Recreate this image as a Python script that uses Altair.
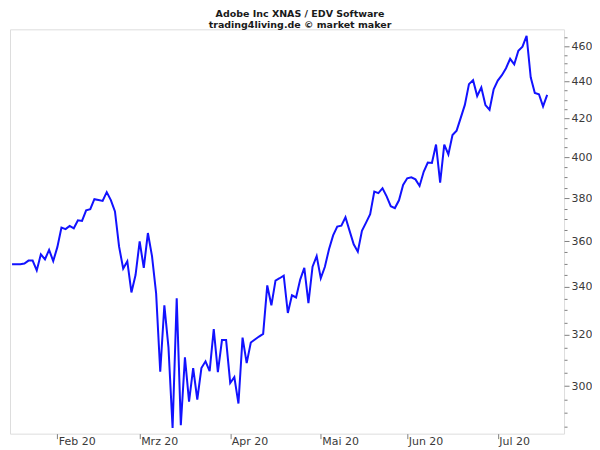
import altair as alt
import pandas as pd

# Trading sessions (all weekdays) from 17 Jan 2020 to 17 Jul 2020
dates = pd.bdate_range("2020-01-17", "2020-07-17")

prices = [
    349.7, 349.7, 349.7, 350.0, 351.3, 351.3, 347.0, 354.1, 351.9, 356.1,
    351.1, 357.3, 366.2, 365.5, 367.0, 365.9, 369.6, 369.3, 374.2, 374.8,
    379.5, 379.1, 378.7, 382.9, 379.1, 373.7, 357.5, 347.8, 351.0, 337.5,
    345.0, 359.9, 348.1, 363.7, 353.3, 337.1, 305.5, 332.1, 315.0, 284.6,
    335.0, 285.6, 311.1, 294.2, 306.9, 295.0, 306.9, 309.5, 305.7, 322.3,
    305.3, 317.9, 317.9, 301.2, 303.4, 293.5, 318.9, 308.8, 316.9, 318.1,
    319.3, 320.4, 340.5, 332.1, 342.6, 343.6, 344.7, 328.9, 336.3, 335.4,
    343.0, 348.1, 333.0, 348.6, 353.3, 343.6, 348.6, 356.4, 362.6, 366.7,
    367.1, 371.0, 364.7, 358.6, 355.3, 364.7, 368.5, 372.4, 383.2, 382.4,
    384.8, 380.9, 376.2, 375.3, 379.0, 386.4, 389.6, 390.1, 389.1, 385.9,
    392.8, 397.4, 397.2, 406.5, 387.5, 406.5, 401.5, 411.4, 413.7, 420.4,
    427.3, 438.6, 440.8, 432.1, 436.8, 427.2, 424.7, 435.7, 440.6, 443.6,
    447.5, 452.8, 449.7, 457.4, 459.8, 466.0, 442.4, 433.8, 433.1, 426.5,
    432.7,
]

month_labels = ["Feb 20", "Mrz 20", "Apr 20", "Mai 20", "Jun 20", "Jul 20"]
month_starts = ["2020-02-03", "2020-03-02", "2020-04-01", "2020-05-01", "2020-06-01", "2020-07-01"]
y_ticks = list(range(285, 470, 5))

df = pd.DataFrame({"session": range(len(dates)), "date": dates.strftime("%Y-%m-%d"), "price": prices})
pos = {d: i for i, d in enumerate(df["date"])}
month_idx = [pos[d] for d in month_starts]

label_expr = "[" + ",".join(f"'{m}'" for m in month_labels) + "][indexof([" + ",".join(str(i) for i in month_idx) + "], datum.value)]"

FONT = "DejaVu Sans"
GRAY = "#808080"
LBL = "#3a3a3a"

chart = alt.Chart(df).mark_line(color="#1212ff", strokeWidth=2).encode(
    x=alt.X(
        "session:Q",
        scale=alt.Scale(domain=[-0.5, 134.1], nice=False, zero=False),
        axis=alt.Axis(
            values=month_idx, labelExpr=label_expr, title=None, grid=False, domain=False,
            tickSize=5, tickColor=GRAY, labelAlign="left", labelPadding=-3.5, labelOffset=1,
            labelColor=LBL, labelFont=FONT, labelFontSize=11, labelFlush=False,
        ),
    ),
    y=alt.Y(
        "price:Q",
        scale=alt.Scale(type="log", domain=[282.6, 469.9], nice=False, zero=False),
        axis=alt.Axis(
            orient="right", values=y_ticks, title=None, grid=False, domain=False,
            labelExpr="datum.value % 20 === 0 ? format(datum.value, 'd') : ''",
            tickSize={"condition": {"test": "datum.value % 20 === 0", "value": 5}, "value": 3},
            tickColor=GRAY, labelPadding=2, labelColor=LBL, labelFont=FONT, labelFontSize=11,
            labelFlush=False, labelOverlap=False,
        ),
    ),
).properties(
    width=555,
    height=405,
    padding=0,
    title=alt.TitleParams(
        text=["Adobe Inc XNAS / EDV Software", "trading4living.de © market maker"],
        font=FONT, fontSize=9.5, fontWeight="bold", color="#1a1a1a",
        anchor="middle", frame="bounds", offset=0, lineHeight=11,
    ),
).configure_view(
    stroke=GRAY, strokeWidth=1
).configure(background="white")

chart.save("out.html", embed_options={"renderer": "svg", "actions": False})
